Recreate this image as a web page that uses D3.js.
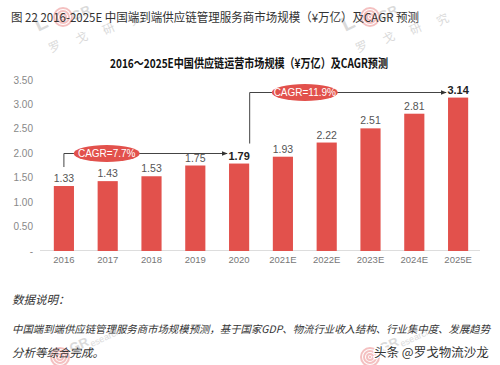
<!DOCTYPE html>
<html><head><meta charset="utf-8">
<script src="https://cdn.jsdelivr.net/npm/d3@7"></script>
<style>body{margin:0;background:#fff}svg{display:block}</style>
</head><body>
<svg id="c" width="500" height="365"></svg>
<script>
const categories = ["2016","2017","2018","2019","2020","2021E","2022E","2023E","2024E","2025E"];
const values = [1.33,1.43,1.53,1.75,1.79,1.93,2.22,2.51,2.81,3.14];
const boldLabels = ["2020","2025E"];
const yTicks = [0,0.5,1,1.5,2,2.5,3,3.5];
const yTickLabels = ["-","0.50","1.00","1.50","2.00","2.50","3.00","3.50"];
const cagrFrom = ["2016","2020"];
const cagrTo = ["2020","2025E"];
const cagrLabels = ["CAGR=7.7%","CAGR=11.9%"];
const cagrLevel = [2.0,3.25];

const svg = d3.select("#c");
const font = "'Noto Sans CJK SC','Noto Sans',sans-serif";
const red = "#E2514C";

const x = d3.scaleBand().domain(categories).range([42,480]).paddingInner(0.54).paddingOuter(0.27);
const y = d3.scaleLinear().domain([0,3.5]).range([251,80]);

// watermarks
function watermark(cx, cy, top){
  const g = svg.append("g").attr("opacity",0.3);
  [9,6,3].forEach(r=>g.append("circle").attr("cx",cx).attr("cy",cy).attr("r",r)
     .attr("fill","none").attr("stroke","#d33").attr("stroke-width",2));
  g.append("circle").attr("cx",cx).attr("cy",cy).attr("r",1.2).attr("fill","#d33");
  if(top){
    g.append("text").attr("x",cx-28).attr("y",cy+12).attr("font-family","Arial,sans-serif")
      .attr("font-size",20).attr("font-weight","bold").attr("fill","#888")
      .attr("transform",`rotate(-25,${cx-20},${cy+6})`).text("L");
    g.append("text").attr("x",cx+11).attr("y",cy+4).attr("font-family","Arial,sans-serif")
      .attr("font-size",13).attr("font-weight","bold").attr("fill","#888")
      .attr("transform",`rotate(-25,${cx+11},${cy+4})`).text("GR");
    const chars = ["罗","戈","研","究"];
    chars.forEach((ch,i)=>g.append("text").attr("x",cx-12+i*27).attr("y",cy+36-i*9)
      .attr("font-family",font).attr("font-size",12).attr("fill","#888")
      .attr("transform",`rotate(-25,${cx-12+i*27},${cy+36-i*9})`).text(ch));
  } else {
    g.append("text").attr("x",cx+12).attr("y",cy-4).attr("font-family","Arial,sans-serif")
      .attr("font-size",13).attr("font-weight","bold").attr("fill","#888")
      .attr("transform",`rotate(-25,${cx+12},${cy-4})`).text("GR");
    g.append("text").attr("x",cx+32).attr("y",cy-10).attr("font-family","Arial,sans-serif")
      .attr("font-size",9).attr("fill","#888")
      .attr("transform",`rotate(-25,${cx+32},${cy-10})`).text("esearch");
  }
}
watermark(63,17,true);
watermark(370,17,true);
watermark(60,357,false);
watermark(370,357,false);

// top caption
svg.append("text").attr("x",11).attr("y",22).attr("font-family",font).attr("font-size",12)
  .attr("fill","#333").attr("textLength",408).attr("lengthAdjust","spacingAndGlyphs")
  .text("图 22 2016-2025E 中国端到端供应链管理服务商市场规模（¥万亿）及CAGR 预测");

// chart title
svg.append("text").attr("x",110).attr("y",68).attr("font-family",font).attr("font-size",12.5)
  .attr("font-weight","bold").attr("fill","#111").attr("textLength",278).attr("lengthAdjust","spacingAndGlyphs")
  .text("2016～2025E中国供应链运营市场规模（¥万亿）及CAGR预测");

// y axis labels
svg.append("g").selectAll("text").data(yTicks).join("text")
  .attr("x",33).attr("y",d=>y(d)+3.5).attr("text-anchor","end")
  .attr("font-family","'Liberation Sans',Arial,sans-serif").attr("font-size",10).attr("fill","#888")
  .text((d,i)=>yTickLabels[i]);

// baseline
svg.append("line").attr("x1",40).attr("x2",480).attr("y1",y(0)-0.5).attr("y2",y(0)-0.5)
  .attr("stroke","#ddd").attr("stroke-width",1);

// bars
svg.append("g").selectAll("rect").data(values).join("rect")
  .attr("x",(d,i)=>x(categories[i])).attr("width",x.bandwidth())
  .attr("y",d=>y(d)).attr("height",d=>y(0)-y(d)).attr("fill",red);

// value labels
svg.append("g").selectAll("text").data(values).join("text")
  .attr("x",(d,i)=>x(categories[i])+x.bandwidth()/2).attr("y",d=>y(d)-4)
  .attr("text-anchor","middle").attr("font-family","'Liberation Sans',Arial,sans-serif")
  .attr("font-size",(d,i)=>boldLabels.includes(categories[i])?11:10.5)
  .attr("font-weight",(d,i)=>boldLabels.includes(categories[i])?"bold":"normal")
  .attr("fill",(d,i)=>boldLabels.includes(categories[i])?"#222":"#555")
  .text(d=>d.toFixed(2));

// x labels
svg.append("g").selectAll("text").data(categories).join("text")
  .attr("x",d=>x(d)+x.bandwidth()/2).attr("y",263).attr("text-anchor","middle")
  .attr("font-family","'Liberation Sans',Arial,sans-serif").attr("font-size",9.5).attr("fill","#777")
  .text(d=>d);

// CAGR arrows
svg.append("defs").append("marker").attr("id","ah").attr("viewBox","0 0 10 10")
  .attr("refX",9).attr("refY",5).attr("markerWidth",6).attr("markerHeight",6)
  .attr("orient","auto").append("path").attr("d","M0,1L10,5L0,9Z").attr("fill","#333");

cagrFrom.forEach((f,i)=>{
  const fi = categories.indexOf(f);
  const x0 = i===0 ? x(f)+x.bandwidth()/2 : x(f)+x.bandwidth()+0.5;
  const yStart = i===0 ? y(values[fi])-19 : y(values[fi])-20;
  const yl = Math.round(y(cagrLevel[i]))+0.5;
  const x1 = x(cagrTo[i]) + x.bandwidth()/2 - 12;
  svg.append("path").attr("d",`M${x0},${yStart}V${yl}H${x1}`).attr("fill","none")
    .attr("stroke","#444").attr("stroke-width",1).attr("marker-end","url(#ah)");
  const ex = i===0 ? (x(categories[0])+x.bandwidth()/2+x(categories[2])+x.bandwidth()/2)/2 - 1
                   : (x(categories[5])+x(categories[6])+x.bandwidth())/2;
  svg.append("ellipse").attr("cx",ex).attr("cy",yl).attr("rx",33).attr("ry",8.5).attr("fill",red);
  svg.append("text").attr("x",ex).attr("y",yl+3.5).attr("text-anchor","middle")
    .attr("font-family","'Liberation Sans',Arial,sans-serif").attr("font-size",10).attr("fill","#fff")
    .text(cagrLabels[i]);
});

// notes
svg.append("text").attr("x",12).attr("y",304).attr("font-family",font).attr("font-size",11.5)
  .attr("font-style","italic").attr("fill","#333").text("数据说明：");
svg.append("text").attr("x",12).attr("y",333).attr("font-family",font).attr("font-size",10.4)
  .attr("font-style","italic").attr("fill","#333")
  .text("中国端到端供应链管理服务商市场规模预测，基于国家GDP、物流行业收入结构、行业集中度、发展趋势");
svg.append("text").attr("x",12).attr("y",357).attr("font-family",font).attr("font-size",11.5)
  .attr("font-style","italic").attr("fill","#333").text("分析等综合完成。");
svg.append("text").attr("x",374).attr("y",357).attr("font-family",font).attr("font-size",12.5)
  .attr("fill","#333").attr("stroke","#fff").attr("stroke-width",2.5).attr("paint-order","stroke")
  .text("头条 @罗戈物流沙龙");
</script>
</body></html>
